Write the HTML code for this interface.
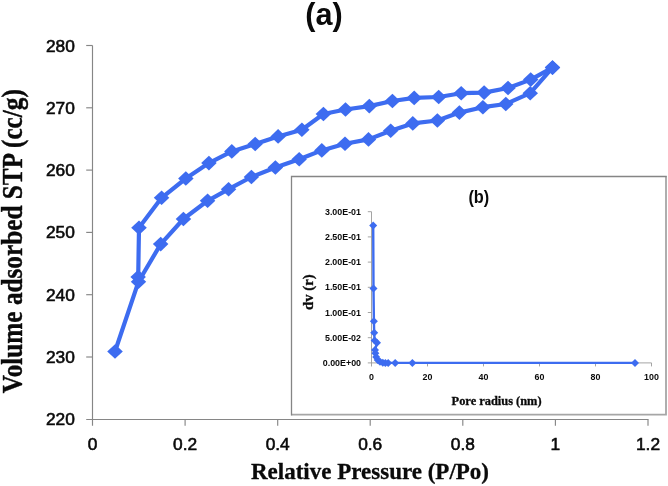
<!DOCTYPE html>
<html><head><meta charset="utf-8"><title>chart</title>
<style>html,body{margin:0;padding:0;background:#fff;}body{width:668px;height:486px;overflow:hidden;font-family:"Liberation Sans",sans-serif;}svg{display:block;transform:translateZ(0);will-change:transform;}</style>
</head><body>
<svg width="668" height="486" viewBox="0 0 668 486">
<rect width="668" height="486" fill="#fff"/>
<g stroke="#868686" stroke-width="1.15" fill="none">
<path d="M92.5 45.5V425.7"/>
<path d="M86.2 419.5H648.5"/>
<path d="M86.2 45.5H92.5"/>
<path d="M86.2 107.8H92.5"/>
<path d="M86.2 170.1H92.5"/>
<path d="M86.2 232.4H92.5"/>
<path d="M86.2 294.7H92.5"/>
<path d="M86.2 357.0H92.5"/>
<path d="M185.1 419.5V425.7"/>
<path d="M277.7 419.5V425.7"/>
<path d="M370.2 419.5V425.7"/>
<path d="M462.8 419.5V425.7"/>
<path d="M555.4 419.5V425.7"/>
<path d="M648.0 419.5V425.7"/>
</g>
<g font-family="'Liberation Sans', sans-serif" font-size="16.2" fill="#0a0a0a" stroke="#0a0a0a" stroke-width="0.55">
<text transform="translate(74.8 51.5) scale(1.07 1.0)" text-anchor="end">280</text>
<text transform="translate(74.8 113.8) scale(1.07 1.0)" text-anchor="end">270</text>
<text transform="translate(74.8 176.1) scale(1.07 1.0)" text-anchor="end">260</text>
<text transform="translate(74.8 238.4) scale(1.07 1.0)" text-anchor="end">250</text>
<text transform="translate(74.8 300.7) scale(1.07 1.0)" text-anchor="end">240</text>
<text transform="translate(74.8 363.0) scale(1.07 1.0)" text-anchor="end">230</text>
<text transform="translate(74.8 425.3) scale(1.07 1.0)" text-anchor="end">220</text>
<text transform="translate(92.5 449.6) scale(1.07 1.0)" text-anchor="middle">0</text>
<text transform="translate(185.1 449.6) scale(1.07 1.0)" text-anchor="middle">0.2</text>
<text transform="translate(277.7 449.6) scale(1.07 1.0)" text-anchor="middle">0.4</text>
<text transform="translate(370.2 449.6) scale(1.07 1.0)" text-anchor="middle">0.6</text>
<text transform="translate(462.8 449.6) scale(1.07 1.0)" text-anchor="middle">0.8</text>
<text transform="translate(555.4 449.6) scale(1.07 1.0)" text-anchor="middle">1</text>
<text transform="translate(648.0 449.6) scale(1.07 1.0)" text-anchor="middle">1.2</text>
</g>
<text x="323.9" y="24.8" text-anchor="middle" font-family="'Liberation Sans', sans-serif" font-weight="bold" font-size="30.6" fill="#0a0a0a">(a)</text>
<text x="370" y="478.8" text-anchor="middle" font-family="'Liberation Serif', serif" font-weight="bold" font-size="23" fill="#0a0a0a" stroke="#0a0a0a" stroke-width="0.3">Relative Pressure (P/Po)</text>
<text transform="translate(21.9 241.2) rotate(-90) scale(1 1.18)" stroke="#0a0a0a" stroke-width="0.35" text-anchor="middle" font-family="'Liberation Serif', serif" font-weight="bold" font-size="25.25" fill="#0a0a0a">Volume adsorbed STP (cc/g)</text>
<polyline fill="none" stroke="#3d6cf0" stroke-width="4.2" stroke-linejoin="round" stroke-linecap="round" points="552.5,67.6 530.7,79.6 508.0,88.0 484.1,92.6 461.2,93.2 438.7,97.0 414.2,97.9 392.4,101.0 369.3,106.1 345.5,109.5 323.4,114.0 301.9,129.7 278.1,136.4 255.2,144.0 231.8,151.4 208.9,163.1 185.8,178.5 161.6,197.8 139.0,227.8 138.2,277.0"/>
<polyline fill="none" stroke="#3d6cf0" stroke-width="4.2" stroke-linejoin="round" stroke-linecap="round" points="115.0,351.5 138.5,281.7 160.7,244.1 183.4,219.0 207.6,200.8 228.6,189.2 251.4,177.0 275.4,167.5 299.2,159.3 321.8,150.4 345.0,143.7 368.5,139.4 390.7,130.8 412.8,123.4 437.4,120.5 459.4,112.6 482.9,107.2 505.8,104.0 530.2,93.2 552.5,67.6"/>
<g fill="#3d6cf0"><path d="M544.8 67.6L552.5 60.3L560.2 67.6L552.5 74.9Z"/><path d="M523.0 79.6L530.7 72.3L538.5 79.6L530.7 86.9Z"/><path d="M500.2 88.0L508.0 80.7L515.8 88.0L508.0 95.3Z"/><path d="M476.4 92.6L484.1 85.3L491.9 92.6L484.1 99.9Z"/><path d="M453.4 93.2L461.2 85.9L468.9 93.2L461.2 100.5Z"/><path d="M430.9 97.0L438.7 89.7L446.4 97.0L438.7 104.3Z"/><path d="M406.4 97.9L414.2 90.6L421.9 97.9L414.2 105.2Z"/><path d="M384.6 101.0L392.4 93.7L400.1 101.0L392.4 108.3Z"/><path d="M361.6 106.1L369.3 98.8L377.1 106.1L369.3 113.4Z"/><path d="M337.8 109.5L345.5 102.2L353.2 109.5L345.5 116.8Z"/><path d="M315.6 114.0L323.4 106.7L331.1 114.0L323.4 121.3Z"/><path d="M294.1 129.7L301.9 122.4L309.6 129.7L301.9 137.0Z"/><path d="M270.4 136.4L278.1 129.1L285.9 136.4L278.1 143.7Z"/><path d="M247.4 144.0L255.2 136.7L262.9 144.0L255.2 151.3Z"/><path d="M224.1 151.4L231.8 144.1L239.6 151.4L231.8 158.7Z"/><path d="M201.2 163.1L208.9 155.8L216.7 163.1L208.9 170.4Z"/><path d="M178.1 178.5L185.8 171.2L193.6 178.5L185.8 185.8Z"/><path d="M153.8 197.8L161.6 190.5L169.3 197.8L161.6 205.1Z"/><path d="M131.2 227.8L139.0 220.5L146.8 227.8L139.0 235.1Z"/><path d="M130.4 277.0L138.2 269.7L145.9 277.0L138.2 284.3Z"/><path d="M107.2 351.5L115.0 344.2L122.8 351.5L115.0 358.8Z"/><path d="M130.8 281.7L138.5 274.4L146.2 281.7L138.5 289.0Z"/><path d="M152.9 244.1L160.7 236.8L168.4 244.1L160.7 251.4Z"/><path d="M175.7 219.0L183.4 211.7L191.2 219.0L183.4 226.3Z"/><path d="M199.8 200.8L207.6 193.5L215.3 200.8L207.6 208.1Z"/><path d="M220.8 189.2L228.6 181.9L236.3 189.2L228.6 196.5Z"/><path d="M243.7 177.0L251.4 169.7L259.1 177.0L251.4 184.3Z"/><path d="M267.6 167.5L275.4 160.2L283.1 167.5L275.4 174.8Z"/><path d="M291.4 159.3L299.2 152.0L306.9 159.3L299.2 166.6Z"/><path d="M314.1 150.4L321.8 143.1L329.6 150.4L321.8 157.7Z"/><path d="M337.2 143.7L345.0 136.4L352.8 143.7L345.0 151.0Z"/><path d="M360.8 139.4L368.5 132.1L376.2 139.4L368.5 146.7Z"/><path d="M382.9 130.8L390.7 123.5L398.4 130.8L390.7 138.1Z"/><path d="M405.1 123.4L412.8 116.1L420.6 123.4L412.8 130.7Z"/><path d="M429.6 120.5L437.4 113.2L445.1 120.5L437.4 127.8Z"/><path d="M451.6 112.6L459.4 105.3L467.1 112.6L459.4 119.9Z"/><path d="M475.1 107.2L482.9 99.9L490.6 107.2L482.9 114.5Z"/><path d="M498.1 104.0L505.8 96.7L513.5 104.0L505.8 111.3Z"/><path d="M522.5 93.2L530.2 85.9L538.0 93.2L530.2 100.5Z"/><path d="M544.8 67.6L552.5 60.3L560.2 67.6L552.5 74.9Z"/></g>
<rect x="291.5" y="176.5" width="374.5" height="238.2" fill="#fff"/>
<path d="M666 176.5V414.7H291.5" fill="none" stroke="#a6a6a6" stroke-width="1.8"/>
<path d="M291.5 415.4V176.5H666.8" fill="none" stroke="#858585" stroke-width="1.3"/>
<g stroke="#9a9a9a" stroke-width="0.9" fill="none">
<path d="M371.5 211.7V366.5"/>
<path d="M367.8 362.9H651.5"/>
<path d="M367.8 211.7H371.5"/>
<path d="M367.8 236.9H371.5"/>
<path d="M367.8 262.1H371.5"/>
<path d="M367.8 287.3H371.5"/>
<path d="M367.8 312.5H371.5"/>
<path d="M367.8 337.7H371.5"/>
<path d="M427.5 362.9V366.4"/>
<path d="M483.5 362.9V366.4"/>
<path d="M539.5 362.9V366.4"/>
<path d="M595.5 362.9V366.4"/>
<path d="M651.5 362.9V366.4"/>
</g>
<g font-family="'Liberation Sans', sans-serif" font-weight="bold" font-size="8.9" fill="#0a0a0a">
<text x="361" y="214.7" text-anchor="end">3.00E-01</text>
<text x="361" y="239.9" text-anchor="end">2.50E-01</text>
<text x="361" y="265.1" text-anchor="end">2.00E-01</text>
<text x="361" y="290.3" text-anchor="end">1.50E-01</text>
<text x="361" y="315.5" text-anchor="end">1.00E-01</text>
<text x="361" y="340.7" text-anchor="end">5.00E-02</text>
<text x="361" y="365.9" text-anchor="end">0.00E+00</text>
<text x="371.5" y="380.4" text-anchor="middle">0</text>
<text x="427.5" y="380.4" text-anchor="middle">20</text>
<text x="483.5" y="380.4" text-anchor="middle">40</text>
<text x="539.5" y="380.4" text-anchor="middle">60</text>
<text x="595.5" y="380.4" text-anchor="middle">80</text>
<text x="651.5" y="380.4" text-anchor="middle">100</text>
</g>
<text transform="translate(478.8 203.4) scale(1.02 1.1)" text-anchor="middle" font-family="'Liberation Sans', sans-serif" font-weight="bold" font-size="16" fill="#0a0a0a">(b)</text>
<text x="496.6" y="404.6" text-anchor="middle" font-family="'Liberation Serif', serif" font-weight="bold" font-size="12.4" fill="#0a0a0a" stroke="#0a0a0a" stroke-width="0.3">Pore radius (nm)</text>
<text transform="translate(312.9 292.2) rotate(-90)" text-anchor="middle" font-family="'Liberation Serif', serif" font-weight="bold" font-size="14.7" fill="#0a0a0a" stroke="#0a0a0a" stroke-width="0.3">dv (r)</text>
<polyline fill="none" stroke="#3d6cf0" stroke-width="2.4" stroke-linejoin="round" stroke-linecap="round" points="373.2,225.5 373.5,288.4 373.9,321.3 374.2,332.8 374.6,340.5 377.0,342.7 375.0,350.1 375.4,353.2 376.2,357.0 377.7,360.1 380.0,361.7 382.8,362.8 385.4,362.9 388.2,362.9 395.2,362.9 412.4,362.9 635.0,362.9"/>
<g fill="#3d6cf0"><path d="M369.2 225.5L373.2 221.5L377.2 225.5L373.2 229.5Z"/><path d="M369.5 288.4L373.5 284.4L377.5 288.4L373.5 292.4Z"/><path d="M369.9 321.3L373.9 317.3L377.9 321.3L373.9 325.3Z"/><path d="M370.2 332.8L374.2 328.8L378.2 332.8L374.2 336.8Z"/><path d="M370.6 340.5L374.6 336.5L378.6 340.5L374.6 344.5Z"/><path d="M373.0 342.7L377.0 338.7L381.0 342.7L377.0 346.7Z"/><path d="M371.0 350.1L375.0 346.1L379.0 350.1L375.0 354.1Z"/><path d="M371.4 353.2L375.4 349.2L379.4 353.2L375.4 357.2Z"/><path d="M372.2 357.0L376.2 353.0L380.2 357.0L376.2 361.0Z"/><path d="M373.7 360.1L377.7 356.1L381.7 360.1L377.7 364.1Z"/><path d="M376.0 361.7L380.0 357.7L384.0 361.7L380.0 365.7Z"/><path d="M378.8 362.8L382.8 358.8L386.8 362.8L382.8 366.8Z"/><path d="M381.4 362.9L385.4 358.9L389.4 362.9L385.4 366.9Z"/><path d="M384.2 362.9L388.2 358.9L392.2 362.9L388.2 366.9Z"/><path d="M391.2 362.9L395.2 358.9L399.2 362.9L395.2 366.9Z"/><path d="M408.4 362.9L412.4 358.9L416.4 362.9L412.4 366.9Z"/><path d="M631.0 362.9L635.0 358.9L639.0 362.9L635.0 366.9Z"/></g>
</svg>
</body></html>
